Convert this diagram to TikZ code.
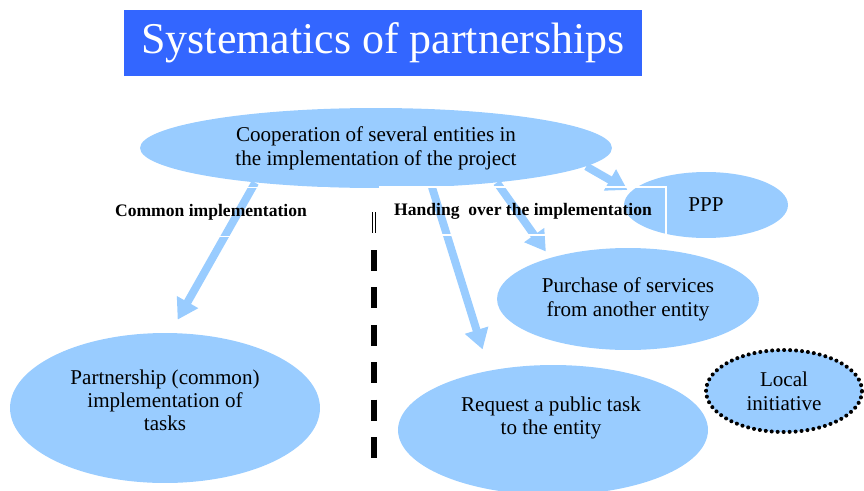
\documentclass[tikz,border=0pt]{standalone}
\usepackage{fontspec}
\setmainfont{Liberation Serif}
\usetikzlibrary{shapes.geometric,arrows.meta}
\definecolor{titleblue}{RGB}{51,102,255}
\definecolor{bubbleblue}{RGB}{153,204,255}
\tikzset{
	bubble/.style={ellipse, fill=bubbleblue, inner sep=0pt, align=center, font=\fontsize{12}{13.6}\selectfont},
	bubbletext/.style={align=center, inner sep=0pt, font=\fontsize{12}{13.2}\selectfont},
	flow/.style={draw=bubbleblue, line width=4.5pt, -{Triangle[width=13.2pt,length=11.5pt]}},
	heading/.style={draw=white, line width=1.1pt, inner sep=0pt, font=\bfseries\fontsize{10}{12}\selectfont},
}
\begin{document}
\begin{tikzpicture}[x=0.02cm,y=-0.02cm]
	\useasboundingbox (0,0) rectangle (864,490);
	\node [fill=titleblue, text=white, font=\fontsize{25}{28}\selectfont, minimum width=10.36cm, minimum height=1.32cm] (title) at (383,43) {Systematics of partnerships};

	\node [bubble, minimum width=9.44cm, minimum height=1.6cm] (coop) at (376,148) {Cooperation of several entities in\\the implementation of the project};
	\node [bubble, minimum width=3.28cm, minimum height=1.32cm] (ppp) at (706,205) {PPP};
	\node [bubble, minimum width=5.24cm, minimum height=2.04cm] (buy) at (628,299) {Purchase of services\\from another entity};
	\node [bubble, minimum width=6.2cm, minimum height=3cm] (part) at (165,408) {};
	\node [bubbletext] (partlbl) at (165,400) {Partnership (common)\\implementation of\\tasks};
	\node [bubble, minimum width=6.2cm, minimum height=2.6cm] (req) at (553,430) {};
	\node [bubbletext] (reqlbl) at (551,418) {Request a public task\\to the entity};
	\node [bubble, draw, line width=2.3pt, dash pattern=on 0pt off 3.4pt, line cap=round, minimum width=3.12cm, minimum height=1.64cm] (local) at (784,391) {Local\\initiative};

	\draw [flow, shorten >=0.3cm] (coop.196) -- (part.86);
	\draw [flow, shorten >=0.44cm] (coop.325) -- (req.137);
	\draw [flow, shorten >=0.15cm] (coop.344) -- (buy.152);
	\draw [flow, shorten >=0.07cm] (coop.355) -- (ppp.170);

	\node [heading, minimum width=4.64cm, minimum height=0.98cm] (common) at (211,212) {Common implementation};
	\node [heading, minimum width=5.72cm, minimum height=0.96cm] (handing) at (523,211) {Handing\ \ over the implementation};

	\coordinate (divtop) at (374,212);
	\coordinate (divmid) at (374,233);
	\coordinate (divdash) at (374,250);
	\coordinate (divbot) at (374,462);
	\draw [double, double distance=1.4pt, line width=0.5pt] (divtop) -- (divmid);
	\draw [line width=3.4pt, dash pattern=on 11.9pt off 9.4pt] (divdash) -- (divbot);
\end{tikzpicture}
\end{document}
